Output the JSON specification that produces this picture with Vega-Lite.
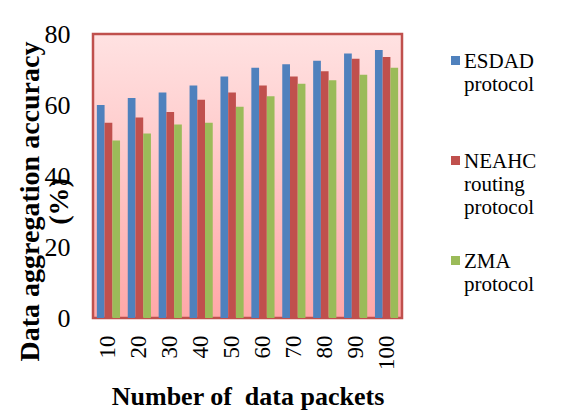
{
  "$schema": "https://vega.github.io/schema/vega-lite/v6.json",
  "width": 309,
  "height": 284,
  "autosize": {"type": "none"},
  "padding": {"left": 93, "top": 34, "right": 168, "bottom": 95},
  "background": "#ffffff",
  "config": {
    "font": "Liberation Serif, DejaVu Serif, serif",
    "view": {
      "stroke": "#C0504D",
      "strokeWidth": 2.5,
      "fill": {
        "gradient": "linear",
        "x1": 0, "y1": 0, "x2": 0, "y2": 1,
        "stops": [
          {"offset": 0, "color": "#FFE2E2"},
          {"offset": 1, "color": "#FFA8A8"}
        ]
      }
    }
  },
  "data": {
    "values": [
      {"packets": "10", "protocol": "ESDAD protocol", "accuracy": 60},
      {"packets": "10", "protocol": "NEAHC routing protocol", "accuracy": 55},
      {"packets": "10", "protocol": "ZMA protocol", "accuracy": 50},
      {"packets": "20", "protocol": "ESDAD protocol", "accuracy": 62},
      {"packets": "20", "protocol": "NEAHC routing protocol", "accuracy": 56.5},
      {"packets": "20", "protocol": "ZMA protocol", "accuracy": 52},
      {"packets": "30", "protocol": "ESDAD protocol", "accuracy": 63.5},
      {"packets": "30", "protocol": "NEAHC routing protocol", "accuracy": 58},
      {"packets": "30", "protocol": "ZMA protocol", "accuracy": 54.5},
      {"packets": "40", "protocol": "ESDAD protocol", "accuracy": 65.5},
      {"packets": "40", "protocol": "NEAHC routing protocol", "accuracy": 61.5},
      {"packets": "40", "protocol": "ZMA protocol", "accuracy": 55},
      {"packets": "50", "protocol": "ESDAD protocol", "accuracy": 68},
      {"packets": "50", "protocol": "NEAHC routing protocol", "accuracy": 63.5},
      {"packets": "50", "protocol": "ZMA protocol", "accuracy": 59.5},
      {"packets": "60", "protocol": "ESDAD protocol", "accuracy": 70.5},
      {"packets": "60", "protocol": "NEAHC routing protocol", "accuracy": 65.5},
      {"packets": "60", "protocol": "ZMA protocol", "accuracy": 62.5},
      {"packets": "70", "protocol": "ESDAD protocol", "accuracy": 71.5},
      {"packets": "70", "protocol": "NEAHC routing protocol", "accuracy": 68},
      {"packets": "70", "protocol": "ZMA protocol", "accuracy": 66},
      {"packets": "80", "protocol": "ESDAD protocol", "accuracy": 72.5},
      {"packets": "80", "protocol": "NEAHC routing protocol", "accuracy": 69.5},
      {"packets": "80", "protocol": "ZMA protocol", "accuracy": 67},
      {"packets": "90", "protocol": "ESDAD protocol", "accuracy": 74.5},
      {"packets": "90", "protocol": "NEAHC routing protocol", "accuracy": 73},
      {"packets": "90", "protocol": "ZMA protocol", "accuracy": 68.5},
      {"packets": "100", "protocol": "ESDAD protocol", "accuracy": 75.5},
      {"packets": "100", "protocol": "NEAHC routing protocol", "accuracy": 73.5},
      {"packets": "100", "protocol": "ZMA protocol", "accuracy": 70.5}
    ]
  },
  "mark": {"type": "bar"},
  "encoding": {
    "x": {
      "field": "packets",
      "type": "ordinal",
      "sort": null,
      "scale": {"paddingInner": 0.25, "paddingOuter": 0.125},
      "axis": {
        "title": "Number of\u00a0 data packets",
        "titleFont": "Liberation Serif, DejaVu Serif, serif",
        "titleFontSize": 26,
        "titleFontWeight": "bold",
        "titleColor": "#000000",
        "titleBaseline": "alphabetic",
        "titleY": 86,
        "labelAngle": -90,
        "labelAlign": "right",
        "labelBaseline": "middle",
        "labelFont": "Liberation Serif, DejaVu Serif, serif",
        "labelFontSize": 23,
        "labelColor": "#000000",
        "labelPadding": 17,
        "ticks": false,
        "domain": false
      }
    },
    "xOffset": {"field": "protocol", "type": "nominal", "scale": {"paddingInner": 0}},
    "y": {
      "field": "accuracy",
      "type": "quantitative",
      "scale": {"domain": [0, 80]},
      "axis": {
        "values": [0, 20, 40, 60, 80],
        "title": ["Data aggregation accuracy", "(%)"],
        "titleFont": "Liberation Serif, DejaVu Serif, serif",
        "titleFontSize": 28,
        "titleFontWeight": "bold",
        "titleColor": "#000000",
        "titleAngle": -90,
        "titleAlign": "center",
        "titleBaseline": "middle",
        "titleLineHeight": 29,
        "titleX": -63,
        "titleY": 167,
        "labelFont": "Liberation Serif, DejaVu Serif, serif",
        "labelFontSize": 26,
        "labelColor": "#000000",
        "labelPadding": 23,
        "ticks": false,
        "domain": false,
        "grid": false
      }
    },
    "color": {
      "field": "protocol",
      "type": "nominal",
      "scale": {
        "domain": ["ESDAD protocol", "NEAHC routing protocol", "ZMA protocol"],
        "range": ["#4F81BD", "#C0504D", "#9BBB59"]
      },
      "legend": {
        "title": null,
        "orient": "none",
        "legendX": 352,
        "legendY": 16,
        "padding": 0,
        "symbolType": "square",
        "symbolSize": 81,
        "symbolStrokeWidth": 0,
        "labelFont": "Liberation Serif, DejaVu Serif, serif",
        "labelFontSize": 21,
        "labelColor": "#000000",
        "labelBaseline": "alphabetic",
        "labelLineHeight": 26,
        "labelOffset": -2,
        "labelLimit": 200,
        "labelExpr": "split(datum.label, ' ')",
        "gridAlign": "all",
        "rowPadding": 32,
        "encode": {
          "labels": {
            "update": {
              "dy": {"value": 7},
              "font": {"value": "Liberation Serif, DejaVu Serif, serif"},
              "fontSize": {"value": 21},
              "fill": {"value": "#000000"}
            }
          }
        }
      }
    }
  }
}
